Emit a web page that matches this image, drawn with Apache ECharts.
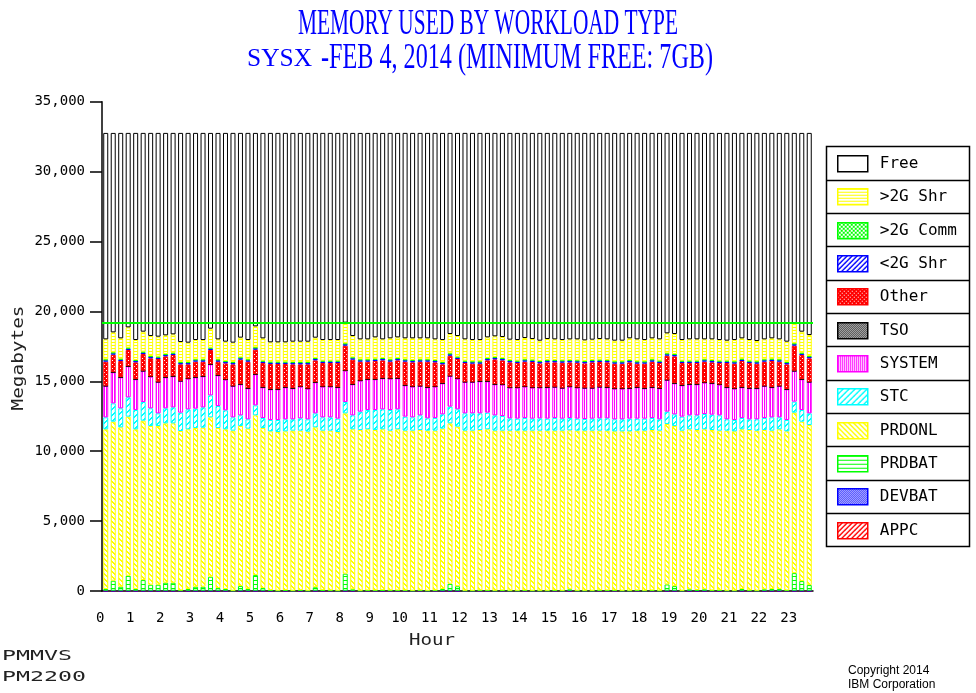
<!DOCTYPE html>
<html>
<head>
<meta charset="utf-8">
<script src="https://cdn.jsdelivr.net/npm/echarts@6/dist/echarts.min.js"></script>
<style>html,body{margin:0;padding:0;background:#fff}#c{width:976px;height:693px}</style>
</head>
<body>
<div id="c"></div>
<script>
const TITLE_1 = 'MEMORY USED BY WORKLOAD TYPE';
const TITLE_2A = 'SYSX';
const TITLE_2B = '-FEB 4, 2014 (MINIMUM FREE: 7GB)';
const HOURS = ['0','1','2','3','4','5','6','7','8','9','10','11','12','13','14','15','16','17','18','19','20','21','22','23'];
const QUARTERS = ['00','15','30','45'];
const BAR_COUNT = 95;
const Y_TICKS = [0, 5000, 10000, 15000, 20000, 25000, 30000, 35000];
const THRESHOLD = 19200;

const APPC   = [0,0,0,0,0,0,0,0,0,0,0,0,0,0,0,0,0,0,0,0,0,0,0,0,0,0,0,0,0,0,0,0,0,0,0,0,0,0,0,0,0,0,0,0,0,0,0,0,0,0,0,0,0,0,0,0,0,0,0,0,0,0,0,0,0,0,0,0,0,0,0,0,0,0,0,0,0,0,0,0,0,0,0,0,0,0,0,0,0,0,0,0,0,0,0];
const DEVBAT = [20,20,20,20,20,20,20,20,20,20,20,20,20,20,20,20,20,20,20,20,20,20,20,20,20,20,20,20,20,20,20,20,20,20,20,20,20,20,20,20,20,20,20,20,20,20,20,20,20,20,20,20,20,20,20,20,20,20,20,20,20,20,20,20,20,20,20,20,20,20,20,20,20,20,20,20,20,20,20,20,20,20,20,20,20,20,20,20,20,20,20,20,20,20,20];
const PRDBAT = [120,714,286,1071,120,762,429,429,571,571,20,120,286,286,1000,190,120,0,333,120,1119,190,40,0,40,
  0,40,0,250,40,20,0,1220,100,0,20,20,40,20,20,20,0,20,0,20,120,500,320,0,0,20,20,
  0,20,0,0,20,0,0,0,20,0,100,0,0,0,20,
  20,20,0,0,20,0,20,0,450,330,0,100,50,100,20,30,0,0,120,20,0,100,120,120,20,1260,690,405];
const PRDONL = [11425,11379,11402,11380,11425,11403,11355,11355,11403,11403,11406,11425,11354,11378,11403,11450,11425,11450,11451,11473,11427,11450,11362,11354,11362,
  11450,11410,11378,11438,11410,11430,11354,11469,11445,11497,11525,11477,11505,11430,11525,11430,11450,11477,11450,11430,11473,11474,11416,11450,11450,11477,11525,
  11450,11430,11450,11450,11430,11450,11450,11450,11430,11450,11370,11450,11450,11450,11430,
  11430,11382,11402,11402,11430,11450,11477,11450,11477,11454,11450,11445,11447,11445,11477,11420,11450,11402,11425,11477,11450,11397,11330,11425,11382,11477,11403,11450];
const STC = [858,1311,1359,1383,1383,1335,1264,906,1073,1144,1311,1430,1383,1454,1573,1573,1359,954,763,668,715,715,811,858,858,
  811,882,882,1001,954,954,954,811,1001,1311,1383,1430,1430,1478,1430,1001,954,1049,882,906,1025,1192,1240,1240,1240,1192,1192,
  1097,1049,882,858,906,858,882,858,906,858,882,858,834,858,882,
  882,858,858,906,858,858,858,811,882,834,1001,1001,1049,1097,1097,1097,811,811,811,763,811,858,954,858,811,787,834,834];
const SYSTEM = [2241,2217,2217,2217,2193,2217,2265,2241,2217,2217,2265,2193,2241,2217,2217,2193,2193,2241,2217,2217,2217,2193,2193,2193,2289,
  2217,2265,2193,2217,2193,2193,2241,2241,2217,2217,2193,2193,2217,2241,2217,2241,2193,2098,2217,2241,2217,2193,2193,2241,2241,2289,2241,
  2217,2241,2193,2217,2241,2217,2193,2241,2217,2193,2241,2217,2217,2193,2241,
  2217,2193,2193,2169,2241,2169,2193,2217,2265,2217,2241,2217,2217,2241,2241,2193,2289,2241,2193,2217,2217,2289,2146,2241,2193,2193,2193,2241];
const TSO = [15,15,15,15,15,15,15,15,15,15,15,15,15,15,15,15,15,15,15,15,15,15,15,15,15,15,15,15,15,15,15,15,15,15,15,15,15,15,15,15,15,15,15,15,15,15,15,15,15,15,15,15,15,15,15,15,15,15,15,15,15,15,15,15,15,15,15,15,15,15,15,15,15,15,15,15,15,15,15,15,15,15,15,15,15,15,15,15,15,15,15,15,15,15,15];
const OTHER = [1722,1245,1150,1150,1198,1198,1293,1627,1484,1508,1174,1007,1102,1031,1007,959,1150,1531,1746,1889,1746,1722,1794,1794,1651,
  1698,1579,1722,1555,1675,1675,1722,1770,1746,1341,1245,1293,1269,1198,1269,1675,1722,1722,1818,1722,1341,1436,1388,1341,1293,1245,1484,
  1770,1722,1794,1746,1770,1818,1722,1770,1746,1794,1722,1770,1746,1818,1770,
  1770,1770,1770,1841,1675,1746,1818,1794,1722,1913,1579,1508,1508,1484,1484,1531,1722,1770,1865,1794,1746,1722,1865,1722,1770,1794,1722,1675];
const SHR_LT2G = [110,110,110,110,110,110,110,110,110,110,110,110,110,110,110,110,110,110,110,110,110,110,110,110,110,110,110,110,110,110,110,110,110,110,110,110,110,110,110,110,110,110,110,110,110,110,110,110,110,110,110,110,110,110,110,110,110,110,110,110,110,110,110,110,110,110,110,110,110,110,110,110,110,110,110,110,110,110,110,110,110,110,110,110,110,110,110,110,110,110,110,110,110,110,110];
const COMM_GT2G = [60,60,60,60,60,60,60,60,60,60,60,60,60,60,60,60,60,60,60,60,60,60,60,60,60,60,60,60,60,60,60,60,60,60,60,60,60,60,60,60,60,60,60,60,60,60,60,60,60,60,60,60,60,60,60,60,60,60,60,60,60,60,60,60,60,60,60,60,60,60,60,60,60,60,60,60,60,60,60,60,60,60,60,60,60,60,60,60,60,60,60,60,60,60,60];
const SHR_GT2G = [1430,1430,1454,1454,1430,1430,1430,1430,1335,1311,1430,1383,1383,1383,1359,1430,1383,1383,1407,1383,1502,1597,1383,1383,1383,
  1454,1454,1454,1454,1478,1478,1478,1478,1526,1430,1430,1526,1335,1502,1478,1502,1550,1502,1502,1478,1573,1383,1478,1526,1526,1526,1478,
  1478,1502,1454,1478,1526,1478,1454,1502,1478,1454,1478,1502,1478,1454,1478,
  1478,1478,1478,1550,1573,1526,1502,1526,1430,1430,1478,1526,1526,1430,1478,1478,1430,1526,1454,1478,1454,1430,1454,1430,1454,1430,1502,1502];
const FREE = [14766,14265,14695,13908,14814,14218,14528,14575,14480,14409,14957,15005,14814,14814,14003,14766,14933,15005,14647,14814,13836,14695,14981,14981,14981,
  14933,14933,14933,14647,14814,14814,14814,13574,14528,14766,14766,14623,14766,14695,14623,14695,14695,14695,14695,14766,14814,14385,14528,14766,14814,14814,14623,
  14551,14599,14790,14814,14670,14742,14862,14742,14766,14814,14770,14766,14838,14790,14742,
  14766,14861,14861,14695,14766,14814,14695,14766,14337,14385,14814,14766,14766,14766,14766,14814,14861,14814,14695,14814,14885,14766,14695,14766,14933,13622,14218,14456];

// categories
const CATEGORIES = [];
HOURS.forEach(h => QUARTERS.forEach(q => { if (CATEGORIES.length < BAR_COUNT) CATEGORIES.push(h + ':' + q); }));

// pattern helpers
function tile(w, h, color, pixels) {
  const c = document.createElement('canvas');
  c.width = w; c.height = h;
  const ctx = c.getContext('2d');
  ctx.fillStyle = '#ffffff'; ctx.fillRect(0, 0, w, h);
  ctx.fillStyle = color;
  pixels(ctx);
  return { image: c, repeat: 'repeat' };
}
const P = {
  hlines: (col, n) => tile(n, n, col, ctx => ctx.fillRect(0, 0, n, 1)),
  vlines: (col, n) => tile(n, n, col, ctx => ctx.fillRect(0, 0, 1, n)),
  back: (col, n) => tile(n, n, col, ctx => { for (let i = 0; i < n; i++) { ctx.fillRect(i, i, 1, 1); ctx.fillRect((i + 1) % n, i, 1, 1); } }),
  fwd: (col, n) => tile(n, n, col, ctx => { for (let i = 0; i < n; i++) { ctx.fillRect(n - 1 - i, i, 1, 1); ctx.fillRect((2 * n - 2 - i) % n, i, 1, 1); } }),
  checker: (col) => tile(2, 2, col, ctx => { ctx.fillRect(0, 0, 1, 1); ctx.fillRect(1, 1, 1, 1); }),
  dense: (col) => tile(4, 4, col, ctx => { ctx.fillRect(0, 0, 4, 4); ctx.clearRect(0, 0, 1, 1); ctx.clearRect(2, 2, 1, 1); ctx.fillStyle = '#fff'; ctx.fillRect(0, 0, 1, 1); ctx.fillRect(2, 2, 1, 1); }),
  cross: (col) => tile(4, 4, col, ctx => { for (let i = 0; i < 4; i++) { ctx.fillRect(i, i, 1, 1); ctx.fillRect(3 - i, i, 1, 1); } })
};

const DEF = [
  { name: 'APPC', data: APPC, color: '#FF0000', fill: P.fwd('#FF0000', 5) },
  { name: 'DEVBAT', data: DEVBAT, color: '#0000FF', fill: P.checker('#0000FF') },
  { name: 'PRDBAT', data: PRDBAT, color: '#00FF00', fill: P.hlines('#00FF00', 4) },
  { name: 'PRDONL', data: PRDONL, color: '#FFFF00', fill: P.back('#FFFF00', 5) },
  { name: 'STC', data: STC, color: '#00FFFF', fill: P.fwd('#00FFFF', 6) },
  { name: 'SYSTEM', data: SYSTEM, color: '#FF00FF', fill: P.vlines('#FF00FF', 2) },
  { name: 'TSO', data: TSO, color: '#000000', fill: P.checker('#000000') },
  { name: 'Other', data: OTHER, color: '#FF0000', fill: P.dense('#FF0000') },
  { name: '<2G Shr', data: SHR_LT2G, color: '#0000FF', fill: P.fwd('#0000FF', 5) },
  { name: '>2G Comm', data: COMM_GT2G, color: '#00FF00', fill: P.cross('#00FF00') },
  { name: '>2G Shr', data: SHR_GT2G, color: '#FFFF00', fill: P.hlines('#FFFF00', 3) },
  { name: 'Free', data: FREE, color: '#000000', fill: '#FFFFFF' }
];

const series = DEF.map(d => ({
  name: d.name,
  type: 'bar',
  stack: 'mem',
  data: d.data,
  barWidth: 5,
  itemStyle: { color: d.fill, borderColor: d.color, borderWidth: 1 },
  emphasis: { disabled: true },
  silent: true
}));
series[series.length - 1].markLine = {
  silent: true, symbol: 'none', animation: false,
  label: { show: false },
  lineStyle: { color: '#00FF00', width: 2, type: 'solid' },
  data: [{ yAxis: THRESHOLD }]
};

function measure(text, font) {
  const c = document.createElement('canvas').getContext('2d');
  c.font = font; return c.measureText(text).width;
}
function fitScale(text, font, width) { return width / measure(text, font); }

const F_T1 = '35px "Liberation Serif"';
const F_T2A = '25px "Liberation Serif"';
const F_MONO = '"DejaVu Sans Mono"';

const legendOrder = DEF.slice().reverse();
const ROW_H = 33.33;
const LEG_TOP = 146.5;
const graphics = [
  { type: 'text', x: 488, y: 25, scaleX: fitScale(TITLE_1, F_T1, 380),
    style: { text: TITLE_1, font: F_T1, fill: '#0000FF', textAlign: 'center', textVerticalAlign: 'middle', align: 'center', verticalAlign: 'middle' } },
  { type: 'text', x: 247, y: 59, scaleX: fitScale(TITLE_2A, F_T2A, 65),
    style: { text: TITLE_2A, font: F_T2A, fill: '#0000FF', textAlign: 'left', textVerticalAlign: 'middle', align: 'left', verticalAlign: 'middle' } },
  { type: 'text', x: 321, y: 59, scaleX: fitScale(TITLE_2B, F_T1, 392),
    style: { text: TITLE_2B, font: F_T1, fill: '#0000FF', textAlign: 'left', textVerticalAlign: 'middle', align: 'left', verticalAlign: 'middle' } },
  { type: 'text', x: 19, y: 358, rotation: Math.PI / 2, scaleX: fitScale('Megabytes', '15px ' + F_MONO, 105),
    style: { text: 'Megabytes', font: '15px ' + F_MONO, fill: '#222', textAlign: 'center', textVerticalAlign: 'middle', align: 'center', verticalAlign: 'middle' } },
  { type: 'text', x: 432, y: 641, scaleX: fitScale('Hour', '16px ' + F_MONO, 46),
    style: { text: 'Hour', font: '16px ' + F_MONO, fill: '#222', textAlign: 'center', textVerticalAlign: 'middle', align: 'center', verticalAlign: 'middle' } },
  { type: 'text', x: 2, y: 656, scaleX: fitScale('PMMVS', '14px ' + F_MONO, 70),
    style: { text: 'PMMVS', font: '14px ' + F_MONO, fill: '#222', textAlign: 'left', textVerticalAlign: 'middle', align: 'left', verticalAlign: 'middle' } },
  { type: 'text', x: 2, y: 677, scaleX: fitScale('PM2200', '14px ' + F_MONO, 84),
    style: { text: 'PM2200', font: '14px ' + F_MONO, fill: '#222', textAlign: 'left', textVerticalAlign: 'middle', align: 'left', verticalAlign: 'middle' } },
  { type: 'text', x: 848, y: 671, style: { text: 'Copyright 2014', font: '12px "Liberation Sans"', fill: '#000', textAlign: 'left', textVerticalAlign: 'middle', align: 'left', verticalAlign: 'middle' } },
  { type: 'text', x: 848, y: 685, style: { text: 'IBM Corporation', font: '12px "Liberation Sans"', fill: '#000', textAlign: 'left', textVerticalAlign: 'middle', align: 'left', verticalAlign: 'middle' } },
  { type: 'rect', shape: { x: 826.5, y: LEG_TOP, width: 143, height: ROW_H * 12 }, style: { fill: 'none', stroke: '#000', lineWidth: 1.5 }, z: 10 }
];
for (let k = 1; k < 12; k++) {
  const yy = Math.round(LEG_TOP + ROW_H * k) + 0.5;
  graphics.push({ type: 'line', shape: { x1: 826.5, y1: yy, x2: 969.5, y2: yy }, style: { stroke: '#000', lineWidth: 1.5 }, z: 10 });
}

const legends = legendOrder.map((d, k) => ({
  orient: 'vertical', left: 837, top: Math.round(LEG_TOP + ROW_H * k + 8.5),
  itemWidth: 30, itemHeight: 16, padding: 0, selectedMode: false, icon: 'rect',
  textStyle: { fontFamily: 'DejaVu Sans Mono', fontSize: 16, color: '#000', padding: [0, 0, 0, 7] },
  data: [{ name: d.name, icon: 'rect', itemStyle: { color: d.fill, borderColor: d.color, borderWidth: 1.5 } }]
}));

const chart = echarts.init(document.getElementById('c'), null, { renderer: 'canvas' });
chart.setOption({
  animation: false,
  backgroundColor: '#ffffff',
  grid: { left: 102, right: 163, top: 101.7, bottom: 102 },
  legend: legends,
  xAxis: {
    type: 'category', data: CATEGORIES, boundaryGap: true,
    axisLine: { lineStyle: { color: '#000', width: 1.5 } },
    axisTick: { alignWithLabel: true, interval: 0, length: 10, lineStyle: { color: '#000', width: 1.5 } },
    axisLabel: { interval: 3, margin: 20, fontFamily: 'DejaVu Sans Mono', fontSize: 14, color: '#000', padding: [0, 11, 0, 0],
      formatter: v => v.split(':')[0] },
    splitLine: { show: false }
  },
  yAxis: {
    type: 'value', min: Y_TICKS[0], max: Y_TICKS[Y_TICKS.length - 1], interval: Y_TICKS[1] - Y_TICKS[0],
    axisLine: { show: true, lineStyle: { color: '#000', width: 1.5 } },
    axisTick: { show: true, length: 12, lineStyle: { color: '#000', width: 1.5 } },
    axisLabel: { margin: 17, fontFamily: 'DejaVu Sans Mono', fontSize: 14, color: '#000',
      formatter: v => v.toLocaleString('en-US') },
    splitLine: { show: false }
  },
  graphic: { elements: graphics },
  series: series
});
</script>
</body>
</html>
